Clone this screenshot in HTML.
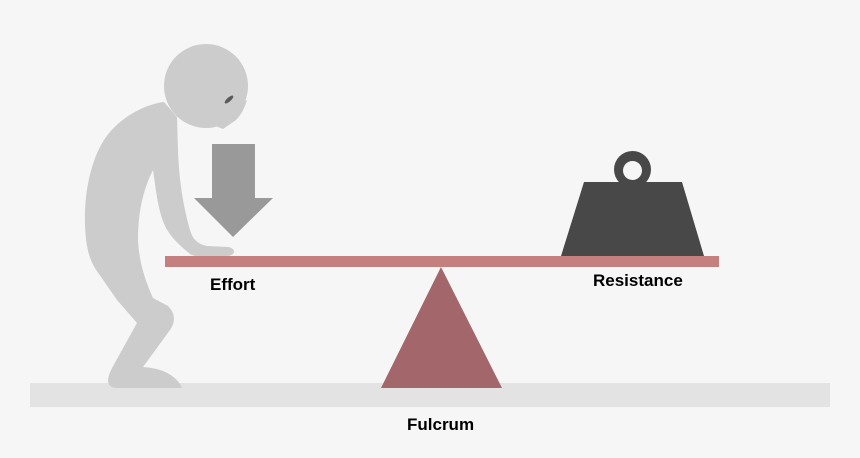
<!DOCTYPE html>
<html><head><meta charset="utf-8"><style>
html,body{margin:0;padding:0;background:#f6f6f6;}
svg{display:block;}
text{font-family:"Liberation Sans",Arial,sans-serif;font-weight:bold;font-size:17px;fill:#000;}
</style></head><body>
<svg width="860" height="458" viewBox="0 0 860 458" xmlns="http://www.w3.org/2000/svg">
<rect x="0" y="0" width="860" height="458" fill="#f6f6f6"/>
<!-- ground -->
<rect x="30" y="383" width="800" height="24" fill="#e3e3e3"/>
<!-- person -->
<g fill="#cccccc">
<circle cx="206" cy="86" r="42"/>
<path d="M247,100 C244,110 240,116 236,120 L223,129 L213,125 L200,120 Z"/>
<path d="M164,102 C145,104 118,118 104,140 C90,162 84,195 85,225 C86,250 90,262 99,274 L117,300 L137,323 L112,368 C106,380 106,388 118,388 L182,388 C176,374 160,368 143,367 L170,330 C176,321 175,313 168,306 L153,298 C145,280 139,262 138,240 C138,215 142,192 153,170 C156,190 158,212 166,228 C172,238 178,244 190,254 C195,257 200,256 206,256 L228,256 C236,255 236,248 228,247 L207,246 C198,244 193,240 190,230 C183,205 179,180 178,150 L177,117 Z"/>
</g>
<!-- eye -->
<ellipse cx="229" cy="99.5" rx="5.5" ry="2" transform="rotate(-42 229 99.5)" fill="#5a5a5a"/>
<!-- effort arrow -->
<polygon points="212,144 255,144 255,198 273,198 233,237 194,198 212,198" fill="#999999"/>
<!-- weight -->
<g fill="#484848">
<circle cx="632.5" cy="169.5" r="18.5"/>
<polygon points="584,182 682,182 704,256 561,256"/>
</g>
<circle cx="632.5" cy="170.5" r="9.5" fill="#f6f6f6"/>
<!-- beam -->
<rect x="165" y="256" width="554" height="11" fill="#c4807f"/>
<!-- fulcrum -->
<polygon points="441,267 502,388 381,388" fill="#a3666a"/>
<!-- labels -->
<text x="210" y="290">Effort</text>
<text x="593" y="286">Resistance</text>
<text x="407" y="430">Fulcrum</text>
</svg>
</body></html>
